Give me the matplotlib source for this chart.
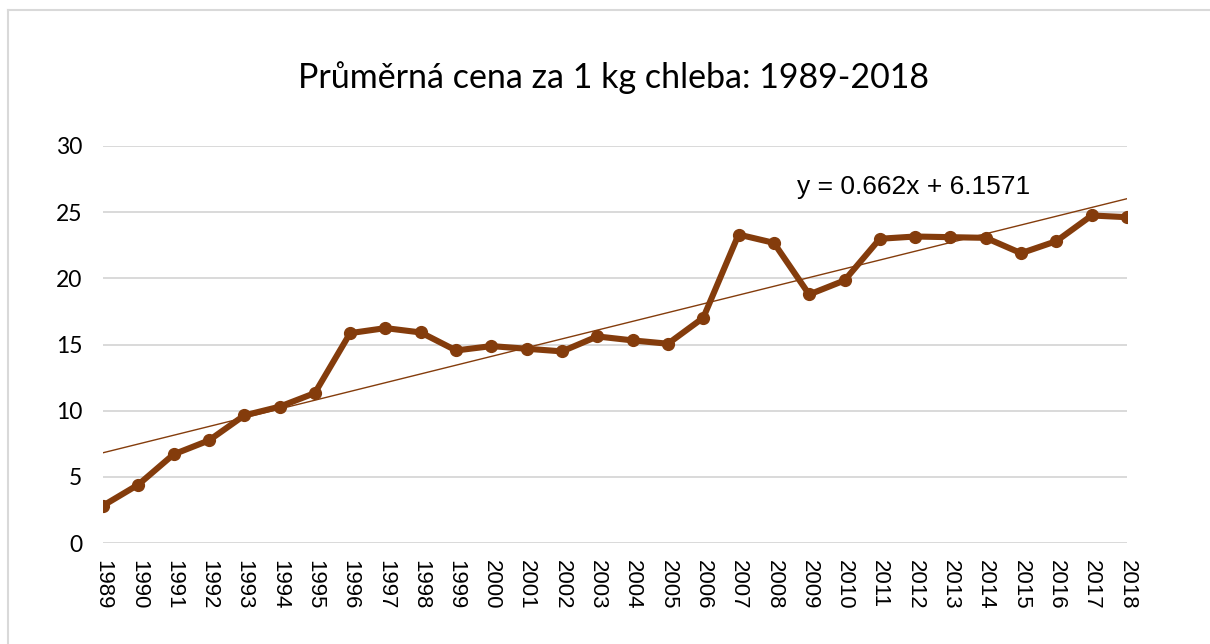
import numpy as np
import matplotlib
matplotlib.use("Agg")
import matplotlib.pyplot as plt
from matplotlib.lines import Line2D

# prices (Kč per kg of bread)
years = list(range(1989, 2019))
prices = [
    2.82, 4.41, 6.70, 7.75, 9.64, 10.30, 11.33, 15.86, 16.24, 15.91,
    14.55, 14.88, 14.68, 14.48, 15.61, 15.31, 15.06, 17.02, 23.31, 22.68,
    18.78, 19.84, 22.99, 23.16, 23.11, 23.06, 21.90, 22.81, 24.75, 24.62,
]
y_ticks = [0, 5, 10, 15, 20, 25, 30]

# Excel linear trendline, x = 1..30
slope = 0.662
intercept = 6.1571

title = "Průměrná cena za 1 kg chleba: 1989-2018"
brown = "#843C0C"


def main():
    fig = plt.figure(figsize=(12.1, 6.44), dpi=100)
    ax = fig.add_axes([0.0851, 0.1568, 0.8463, 0.6165])

    idx = np.arange(1, len(years) + 1)
    trend = slope * idx + intercept

    ax.plot(years, trend, color=brown, linewidth=1.0, zorder=2)
    ax.plot(years, prices, color=brown, linewidth=4.4, marker="o",
            markersize=8.5, solid_joinstyle="round", zorder=3)

    ax.set_xlim(years[0], years[-1])
    ax.set_ylim(0, 30)
    ax.set_yticks(y_ticks)
    ax.set_xticks(years)
    ax.set_xticklabels([str(y) for y in years], rotation=270,
                       family="Liberation Sans", fontsize=16)
    ax.set_yticklabels([str(v) for v in y_ticks], family="Lato", fontsize=16.5)
    ax.tick_params(axis="both", length=0)
    ax.tick_params(axis="y", pad=15)
    ax.tick_params(axis="x", pad=12)

    ax.grid(axis="y", color="#D9D9D9", linewidth=1.4)
    ax.set_axisbelow(True)
    for side in ["top", "right", "left", "bottom"]:
        ax.spines[side].set_visible(False)

    ax.text(2008.65, 26.9, f"y = {slope}x + {intercept}",
            family="Liberation Sans", fontsize=19, va="center", ha="left")

    fig.text(0.507, 0.88, title, family="Lato", fontsize=24.5,
             ha="center", va="center")

    # frame of the chart area, cut off at the right and bottom
    frame_kw = dict(color="#D9D9D9", linewidth=1.5, transform=fig.transFigure)
    fig.add_artist(Line2D([8 / 1210, 1], [1 - 10 / 644, 1 - 10 / 644], **frame_kw))
    fig.add_artist(Line2D([8 / 1210, 8 / 1210], [0, 1 - 10 / 644], **frame_kw))

    fig.savefig("out.png", dpi=100)
    plt.close(fig)


if __name__ == "__main__":
    main()
